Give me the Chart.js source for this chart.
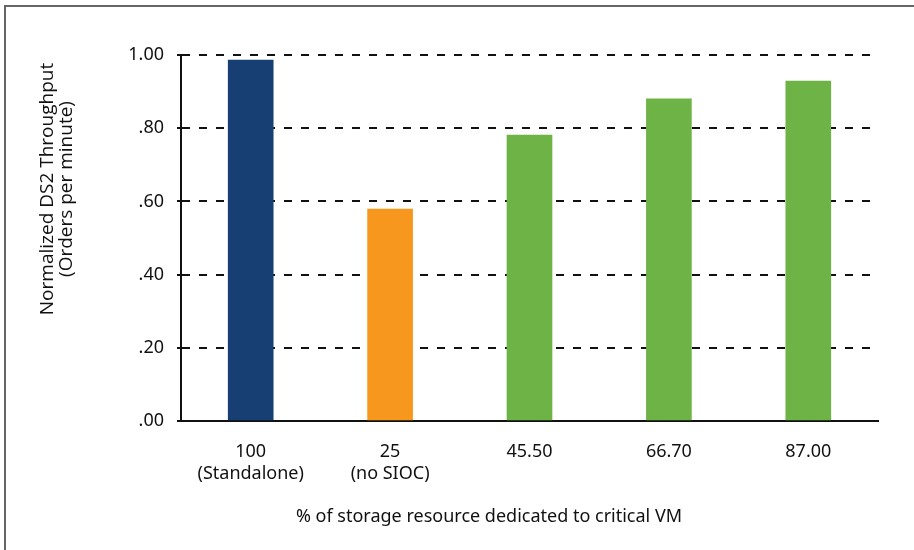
<!DOCTYPE html>
<html>
<head>
<meta charset="utf-8">
<script src="https://cdn.jsdelivr.net/npm/chart.js@4/dist/chart.umd.min.js"></script>
<style>
    html, body { margin: 0; padding: 0; background: #fff; }
    #wrap { position: relative; width: 914px; height: 550px; }
</style>
</head>
<body>
<div id="wrap"><canvas id="chart" width="914" height="550"></canvas></div>
<script>
// chart data
const categories = [["100", "(Standalone)"], ["25", "(no SIOC)"], "45.50", "66.70", "87.00"];
const throughput = [0.986, 0.579, 0.781, 0.880, 0.929];
const barColors = ["#183f73", "#f7971e", "#6db345", "#6db345", "#6db345"];
const yTickLabels = [".00", ".20", ".40", ".60", ".80", "1.00"];
const yTitle = ["Normalized DS2 Throughput", "(Orders per minute)"];
const xTitle = "% of storage resource dedicated to critical VM";

const FONT = "'Noto Sans', sans-serif";

// frame lines + axis titles drawn by hand so they can sit off-centre like the original
const extras = {
    id: "extras",
    beforeDraw(chart) {
        const c = chart.ctx;
        c.save();
        c.strokeStyle = "#666";
        c.lineWidth = 2;
        c.beginPath();
        c.moveTo(5, 550);
        c.lineTo(5, 6);
        c.lineTo(914, 6);
        c.stroke();
        c.restore();
    },
    afterDraw(chart) {
        const c = chart.ctx;
        c.save();
        c.fillStyle = "#111";
        c.textAlign = "center";
        c.textBaseline = "middle";
        c.font = "18px " + FONT;
        c.fillText(xTitle, 489, 517);

        c.translate(0, 189);
        c.rotate(-Math.PI / 2);
        c.font = "19px 'Open Sans', sans-serif";
        c.fillText(yTitle[0], 0, 48);
        c.fillText(yTitle[1], 0, 67);
        c.restore();
    }
};

new Chart(document.querySelector("#chart").getContext("2d"), {
    type: "bar",
    data: {
        labels: categories,
        datasets: [{
            data: throughput,
            backgroundColor: barColors,
            barThickness: 45
        }]
    },
    options: {
        responsive: false,
        animation: false,
        layout: { padding: { left: 0, right: 36, top: 55, bottom: 0 } },
        plugins: { legend: { display: false }, tooltip: { enabled: false } },
        scales: {
            x: {
                grid: { display: false, drawTicks: false },
                border: { display: true, color: "#111", width: 2 },
                ticks: {
                    color: "#111",
                    padding: 20,
                    font: { family: FONT, size: 18 },
                    maxRotation: 0
                },
                afterFit(scale) { scale.height = 129; }
            },
            y: {
                min: 0,
                max: 1,
                grid: {
                    color: "#111",
                    lineWidth: 2,
                    tickBorderDash: [],
                    tickLength: 4,
                    tickColor: "#111",
                    tickWidth: 2
                },
                border: { display: true, color: "#111", width: 2, dash: [8, 9] },
                ticks: {
                    stepSize: 0.2,
                    color: "#111",
                    padding: 13,
                    font: { family: FONT, size: 18 },
                    callback: (v, i) => yTickLabels[i]
                },
                afterFit(scale) { scale.width = 181; }
            }
        }
    },
    plugins: [extras]
});
</script>
</body>
</html>
